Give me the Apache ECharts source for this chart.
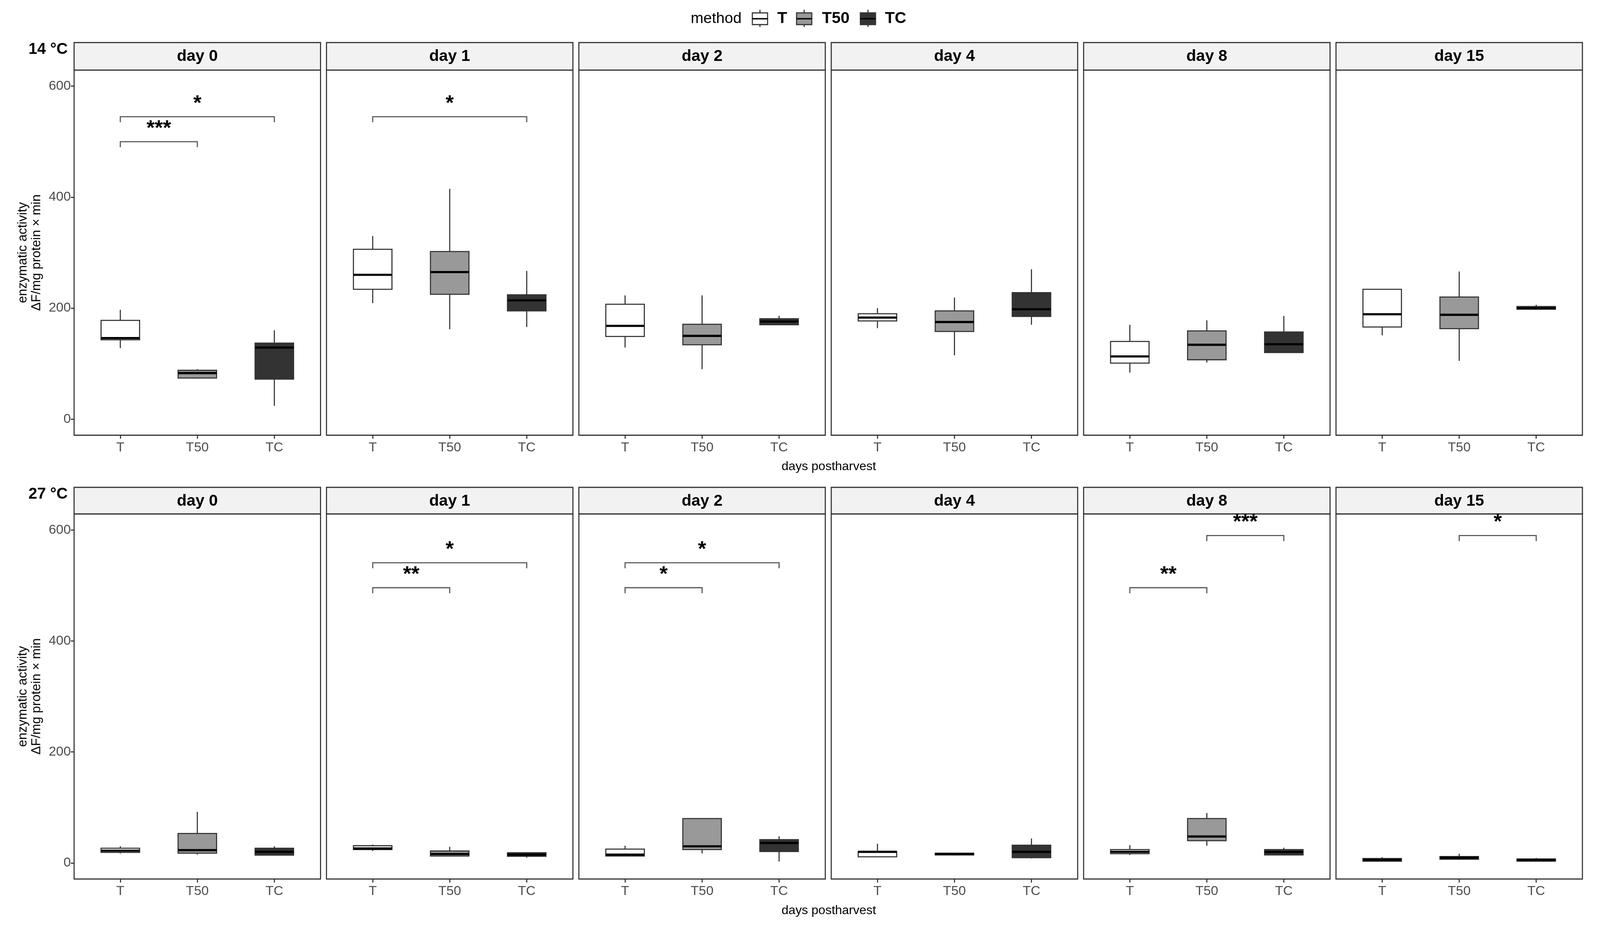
<!DOCTYPE html>
<html>
<head>
<meta charset="utf-8" />
<title>enzymatic activity</title>
<script src="https://cdn.jsdelivr.net/npm/echarts@6/dist/echarts.min.js"></script>
<style>
  html, body { margin: 0; padding: 0; background: #fff; overflow: hidden; }
  #chart { width: 100vw; height: 100vh; }
</style>
</head>
<body>
<div id="chart"></div>
<script>
// categories
var methods = ['T', 'T50', 'TC'];
var days = ['day 0', 'day 1', 'day 2', 'day 4', 'day 8', 'day 15'];
var temps = ['14 °C', '27 °C'];
var yTicks = [0, 200, 400, 600];

// box stats per day: [lower whisker, q1, median, q3, upper whisker]
var t14_T   = [[128,143,146,178,197], [209,234,260,306,330], [129,149,168,207,223], [164,177,183,190,200], [84,101,113,140,170],  [151,166,189,234,234]];
var t14_T50 = [[73,74,83,88,90],      [162,225,265,302,415], [90,134,150,171,223],  [115,158,175,195,219], [102,107,134,159,178], [105,163,188,220,266]];
var t14_TC  = [[24,72,129,137,160],   [166,195,214,224,267], [170,170,176,181,186], [170,185,198,228,270], [120,120,135,157,186], [197,198,200,203,206]];

var t27_T   = [[17,19,22,26.5,30],    [21.5,24,26,31,33],    [12.5,12.5,15,25,31],  [11,11,20,20.6,34.6],  [14.3,16.6,20,24,32],  [2.2,3.1,5.4,8,10.3]];
var t27_T50 = [[15,17.5,23,53,92],    [12.5,12.5,16,21.5,29],[17,24,30,80,80],      [13.4,14.3,16,17.5,17.5], [31,40,47.6,80,90], [5.4,6.7,9.4,11.6,16.6]];
var t27_TC  = [[14,14,20,26.5,30],    [9.4,12,15,18.4,19.3], [2.6,20.6,36,42,48],   [8,9.4,20,32,44],      [14.3,14.3,19.7,24,27.4], [2.2,3.1,5.4,7.2,9]];

// significance brackets: [day index, from method, to method, y, label]
var sig14 = [[0,1,3,545,'*'], [0,1,2,500,'***'], [1,1,3,545,'*']];
var sig27 = [[1,1,3,541,'*'], [1,1,2,496,'**'], [2,1,3,541,'*'], [2,1,2,496,'*'],
             [4,2,3,590,'***'], [4,1,2,496,'**'], [5,2,3,590,'*']];

var boxes = [[t14_T, t14_T50, t14_TC], [t27_T, t27_T50, t27_TC]];
var sigs = [sig14, sig27];

var FONT = 'Liberation Sans, Arial, sans-serif';
var fills = ['#ffffff', '#999999', '#333333'];
var BOX_W = 0.5, TIP = 10;

// layout is designed for 4415 x 2379 and scaled to the actual window
var el = document.getElementById('chart');
var W = el.clientWidth || 4415, H = el.clientHeight || 2379;
var sx = W / 4415, sy = H / 2379, sf = Math.min(sx, sy);
function X(v) { return v * sx; }
function Y(v) { return v * sy; }
function F(v) { return Math.round(v * sf); }

var colLeft = 204.5, colPitch = 696.4, panelW = 680;
var stripTop = [109, 1248], panelTop = [179.5, 1316], panelH = 935;

function renderBox(params, api) {
  var x = api.value(0);
  var lo = api.coord([x, api.value(1)]);
  var q1 = api.coord([x, api.value(2)]);
  var md = api.coord([x, api.value(3)]);
  var q3 = api.coord([x, api.value(4)]);
  var hi = api.coord([x, api.value(5)]);
  var hw = api.size([BOX_W, 0])[0] / 2;
  var ln = { stroke: '#333', lineWidth: 3 * sf };
  return { type: 'group', children: [
    { type: 'line', shape: { x1: lo[0], y1: lo[1], x2: q1[0], y2: q1[1] }, style: ln },
    { type: 'line', shape: { x1: q3[0], y1: q3[1], x2: hi[0], y2: hi[1] }, style: ln },
    { type: 'rect', shape: { x: q1[0] - hw, y: q3[1], width: 2 * hw, height: q1[1] - q3[1] },
      style: { fill: fills[api.value(6)], stroke: '#333', lineWidth: 3 * sf } },
    { type: 'line', shape: { x1: md[0] - hw, y1: md[1], x2: md[0] + hw, y2: md[1] },
      style: { stroke: '#000', lineWidth: 6 * sf } }
  ]};
}

function makeBracket(list) {
  return function (params, api) {
    var p1 = api.coord([api.value(0), api.value(2)]);
    var p2 = api.coord([api.value(1), api.value(2)]);
    var tip = api.size([0, TIP])[1];
    return { type: 'group', children: [
      { type: 'polyline', shape: { points: [[p1[0], p1[1] + tip], p1, p2, [p2[0], p2[1] + tip]] },
        style: { stroke: '#555', lineWidth: 3 * sf, fill: null } },
      { type: 'text', style: { text: list[params.dataIndex][4], x: (p1[0] + p2[0]) / 2, y: p1[1] - Y(33),
        align: 'center', verticalAlign: 'middle', fontSize: F(58), fontWeight: 'bold',
        fontFamily: FONT, fill: '#000' } }
    ]};
  };
}

var grid = [], xAxis = [], yAxis = [], series = [], graphic = [];

for (var r = 0; r < 2; r++) {
  for (var c = 0; c < 6; c++) {
    var gi = r * 6 + c;
    var left = colLeft + c * colPitch;
    grid.push({ left: X(left), top: Y(panelTop[r]), width: X(panelW), height: Y(panelH),
      show: true, borderColor: '#333', borderWidth: 3 * sf, backgroundColor: '#fff' });
    xAxis.push({
      gridIndex: gi, type: 'value', min: 0.4, max: 3.6, position: 'bottom',
      axisLine: { show: false, onZero: false }, splitLine: { show: false },
      axisTick: { customValues: [1, 2, 3], length: Y(9), lineStyle: { color: '#333', width: 3 * sf } },
      axisLabel: { customValues: [1, 2, 3], formatter: function (v) { return methods[Math.round(v) - 1]; },
        fontSize: F(37), color: '#4d4d4d', margin: Y(15), fontFamily: FONT }
    });
    var ya = {
      gridIndex: gi, type: 'value', min: -29, max: 629, position: 'left',
      axisLine: { show: false, onZero: false }, splitLine: { show: false },
      axisTick: { show: c === 0, customValues: yTicks, length: X(9), lineStyle: { color: '#333', width: 3 * sf } },
      axisLabel: { show: c === 0, customValues: yTicks, fontSize: F(37), color: '#4d4d4d', margin: X(9), fontFamily: FONT }
    };
    if (c === 0) {
      ya.name = 'enzymatic activity\nΔF/mg protein × min';
      ya.nameLocation = 'middle';
      ya.nameRotate = 90;
      ya.nameGap = X(84);
      ya.nameTextStyle = { fontSize: F(36), lineHeight: F(38), color: '#000', fontFamily: FONT };
    }
    yAxis.push(ya);

    var bdata = [];
    for (var m = 0; m < 3; m++) {
      var s = boxes[r][m][c];
      bdata.push([m + 1, s[0], s[1], s[2], s[3], s[4], m]);
    }
    series.push({ type: 'custom', xAxisIndex: gi, yAxisIndex: gi, renderItem: renderBox,
      data: bdata, encode: { x: 0, y: [1, 2, 3, 4, 5] }, silent: true });

    var list = sigs[r].filter(function (d) { return d[0] === c; });
    if (list.length) {
      series.push({ type: 'custom', xAxisIndex: gi, yAxisIndex: gi, renderItem: makeBracket(list),
        data: list.map(function (d) { return [d[1], d[2], d[3]]; }),
        encode: { x: [0, 1], y: 2 }, silent: true, z: 3 });
    }

    // facet strip
    graphic.push({ type: 'rect', shape: { x: X(left), y: Y(stripTop[r]), width: X(panelW), height: Y(panelTop[r] - stripTop[r]) },
      style: { fill: '#f2f2f2', stroke: '#333', lineWidth: 3 * sf } });
    graphic.push({ type: 'text', x: X(left + panelW / 2), y: Y(stripTop[r] + 36),
      style: { text: days[c], fontSize: F(44), fontWeight: 'bold', fontFamily: FONT, fill: '#000',
        align: 'center', verticalAlign: 'middle' } });
  }
  // row label
  graphic.push({ type: 'text', x: X(187), y: Y(stripTop[r] + 18),
    style: { text: temps[r], fontSize: F(43), fontWeight: 'bold', fontFamily: FONT, fill: '#000',
      align: 'right', verticalAlign: 'middle' } });
  // x axis title
  graphic.push({ type: 'text', x: X(2287), y: Y(panelTop[r] + panelH + 81),
    style: { text: 'days postharvest', fontSize: F(35), fontFamily: FONT, fill: '#000',
      align: 'center', verticalAlign: 'middle' } });
}

// legend
var legendY = 48;
graphic.push({ type: 'text', x: X(1906), y: Y(legendY),
  style: { text: 'method', fontSize: F(42), fontFamily: FONT, fill: '#000', align: 'left', verticalAlign: 'middle' } });
var keyX = [2076, 2198, 2374], labX = [2145, 2268, 2442];
for (var k = 0; k < 3; k++) {
  graphic.push({ type: 'line', shape: { x1: X(keyX[k] + 21), y1: Y(25), x2: X(keyX[k] + 21), y2: Y(69) },
    style: { stroke: '#333', lineWidth: 3 * sf } });
  graphic.push({ type: 'rect', shape: { x: X(keyX[k]), y: Y(33), width: X(42), height: Y(30) },
    style: { fill: fills[k], stroke: '#333', lineWidth: 3 * sf } });
  graphic.push({ type: 'line', shape: { x1: X(keyX[k]), y1: Y(legendY), x2: X(keyX[k] + 42), y2: Y(legendY) },
    style: { stroke: '#000', lineWidth: 4 * sf } });
  graphic.push({ type: 'text', x: X(labX[k]), y: Y(legendY),
    style: { text: methods[k], fontSize: F(44), fontWeight: 'bold', fontFamily: FONT, fill: '#000',
      align: 'left', verticalAlign: 'middle' } });
}

var chart = echarts.init(el);
chart.setOption({
  animation: false,
  backgroundColor: '#fff',
  grid: grid,
  xAxis: xAxis,
  yAxis: yAxis,
  series: series,
  graphic: graphic
});
</script>
</body>
</html>
